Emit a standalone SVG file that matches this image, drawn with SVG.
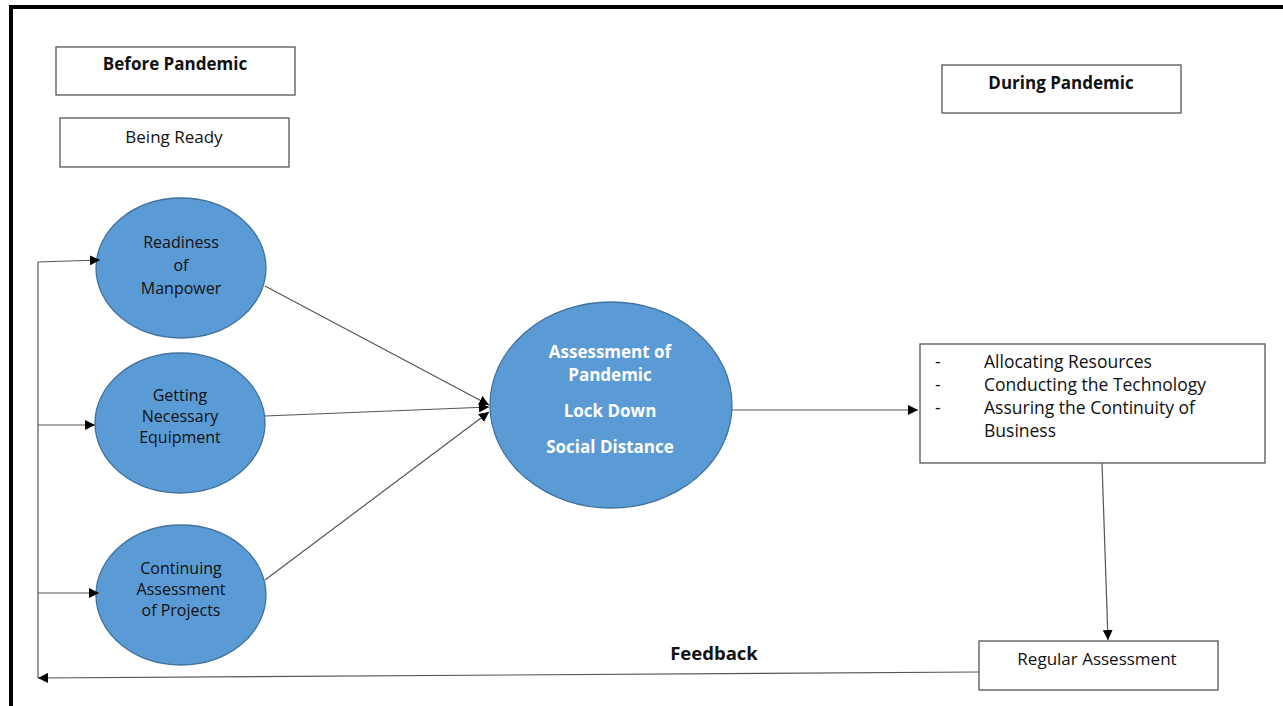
<svg xmlns="http://www.w3.org/2000/svg" width="1283" height="706" viewBox="0 0 1283 706">
<defs>
<marker id="arr" viewBox="0 0 10 10" refX="10" refY="5" markerWidth="10" markerHeight="10" markerUnits="userSpaceOnUse" orient="auto">
<path d="M0,0 L10,5 L0,10 z" fill="#000"/>
</marker>
<style>
.box{fill:#fff;stroke:#555;stroke-width:1.3}
.ell{fill:#5b9bd5;stroke:#41719c;stroke-width:1.3}
.t{font-family:"Open Sans","Liberation Sans",sans-serif;font-size:17px;fill:#111;text-anchor:middle}
.s{font-size:16px}
.b{font-weight:bold}
.w{fill:#fff;font-weight:bold}
.l{text-anchor:start;font-size:17.5px}
.c{fill:none;stroke:#555;stroke-width:1.2}
</style>
</defs>
<rect width="1283" height="706" fill="#fff"/>
<g id="frame">
<line x1="10" y1="7" x2="1283" y2="7" stroke="#000" stroke-width="4"/>
<line x1="11" y1="5" x2="11" y2="706" stroke="#000" stroke-width="4"/>
</g>
<g id="before-pandemic">
<rect class="box" x="56" y="47" width="239" height="48"/>
<text class="t b" x="175" y="70">Before Pandemic</text>
</g>
<g id="being-ready">
<rect class="box" x="60" y="118" width="229" height="49"/>
<text class="t" x="174" y="143">Being Ready</text>
</g>
<g id="during-pandemic">
<rect class="box" x="942" y="65" width="239" height="48"/>
<text class="t b" x="1061" y="89">During Pandemic</text>
</g>
<g id="readiness">
<ellipse class="ell" cx="181" cy="268" rx="85" ry="70"/>
<text class="t s" x="181" y="248">Readiness</text>
<text class="t s" x="181" y="271">of</text>
<text class="t s" x="181" y="294">Manpower</text>
</g>
<g id="equipment">
<ellipse class="ell" cx="180" cy="423" rx="85" ry="70"/>
<text class="t s" x="180" y="401">Getting</text>
<text class="t s" x="180" y="422">Necessary</text>
<text class="t s" x="180" y="443">Equipment</text>
</g>
<g id="continuing">
<ellipse class="ell" cx="181" cy="595" rx="85" ry="70"/>
<text class="t s" x="181" y="574">Continuing</text>
<text class="t s" x="181" y="595">Assessment</text>
<text class="t s" x="181" y="616">of Projects</text>
</g>
<g id="assessment">
<ellipse class="ell" cx="611" cy="405" rx="121" ry="103"/>
<text class="t w" x="610" y="358">Assessment of</text>
<text class="t w" x="610" y="381">Pandemic</text>
<text class="t w" x="610" y="417">Lock Down</text>
<text class="t w" x="610" y="453">Social Distance</text>
</g>
<g id="actions">
<rect class="box" x="920" y="344" width="345" height="119"/>
<text class="t l" x="935" y="368">-</text>
<text class="t l" x="935" y="391">-</text>
<text class="t l" x="935" y="414">-</text>
<text class="t l" x="984" y="368">Allocating Resources</text>
<text class="t l" x="984" y="391">Conducting the Technology</text>
<text class="t l" x="984" y="414">Assuring the Continuity of</text>
<text class="t l" x="984" y="437">Business</text>
</g>
<g id="regular-assessment">
<rect class="box" x="979" y="641" width="239" height="49"/>
<text class="t" x="1097" y="665">Regular Assessment</text>
</g>
<g id="connectors">
<line class="c" x1="38" y1="262" x2="38" y2="678"/>
<line class="c" x1="38" y1="262" x2="100" y2="260" marker-end="url(#arr)"/>
<line class="c" x1="38" y1="425" x2="95" y2="425" marker-end="url(#arr)"/>
<line class="c" x1="38" y1="593" x2="99" y2="593" marker-end="url(#arr)"/>
<line class="c" x1="265" y1="286" x2="489" y2="405" marker-end="url(#arr)"/>
<line class="c" x1="265" y1="416" x2="489" y2="407" marker-end="url(#arr)"/>
<line class="c" x1="265" y1="580" x2="489" y2="412" marker-end="url(#arr)"/>
<line class="c" x1="732" y1="410" x2="918" y2="410" marker-end="url(#arr)"/>
<line class="c" x1="1102" y1="463" x2="1108" y2="640" marker-end="url(#arr)"/>
<line class="c" x1="979" y1="672" x2="38" y2="678" marker-end="url(#arr)"/>
<text class="t b" x="714" y="660" style="font-size:18.5px">Feedback</text>
</g>
</svg>
